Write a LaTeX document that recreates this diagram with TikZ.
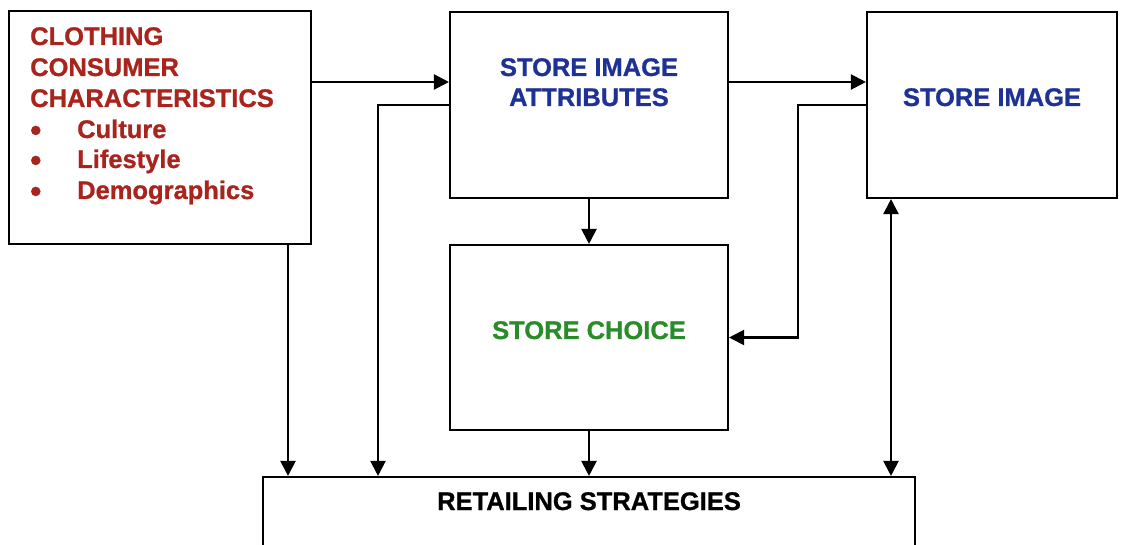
\documentclass[tikz,border=0pt]{standalone}
\usepackage{fontspec}
\setmainfont{Liberation Sans}[BoldFeatures={FakeBold=0.8}]
\usetikzlibrary{arrows.meta}
\definecolor{cred}{RGB}{168,36,28}
\definecolor{cblue}{RGB}{30,50,150}
\definecolor{cgreen}{RGB}{40,140,40}
\tikzset{
  box/.style={draw=black, line width=2.1pt, fill=none, inner sep=0pt},
  txt/.style={font=\fontsize{25.5}{30}\selectfont\bfseries, inner sep=0pt},
  arr/.style={line width=2.1pt, -{Triangle[length=15pt,width=15pt]}},
  darr/.style={line width=2.1pt, {Triangle[length=15pt,width=15pt]}-{Triangle[length=15pt,width=15pt]}},
}
\newcommand{\bul}{\makebox[47pt][l]{\smash{\raisebox{-3pt}{\fontsize{32}{30}\selectfont •}}}}
\begin{document}
\begin{tikzpicture}[x=1pt,y=-1pt]
\useasboundingbox (0,0) rectangle (1125,545);
\fill[white] (0,0) rectangle (1125,545);
\clip (0,0) rectangle (1125,545);
% boxes
\node[box, minimum width=302pt, minimum height=233pt] (b1) at (160,127.5) {};
\node[box, minimum width=278pt, minimum height=186pt] (b2) at (589,105) {};
\node[box, minimum width=250pt, minimum height=186pt] (b3) at (992,105) {};
\node[box, minimum width=278pt, minimum height=185pt] (b4) at (589,337.5) {};
\node[box, minimum width=652pt, minimum height=120pt] (b5) at (589,537) {};
% texts box 1
\node[txt, text=cred, anchor=base west] (l1) at (30,45) {CLOTHING};
\node[txt, text=cred, anchor=base west] (l2) at (30,76) {CONSUMER};
\node[txt, text=cred, anchor=base west] (l3) at (30,107) {CHARACTERISTICS};
\node[txt, text=cred, anchor=base west] (l4) at (30,138) {\bul Culture};
\node[txt, text=cred, anchor=base west] (l5) at (30,168) {\bul Lifestyle};
\node[txt, text=cred, anchor=base west] (l6) at (30,199) {\bul Demographics};
% other texts
\node[txt, text=cblue, anchor=base] (t2a) at (589,76) {STORE IMAGE};
\node[txt, text=cblue, anchor=base] (t2b) at (589,106) {ATTRIBUTES};
\node[txt, text=cblue, anchor=base] (t3) at (992,106) {STORE IMAGE};
\node[txt, text=cgreen, anchor=base] (t4) at (589,339) {STORE CHOICE};
\node[txt, text=black, anchor=base] (t5) at (589,510) {RETAILING STRATEGIES};
% helper coordinates
\coordinate (ya) at (0,82);
\coordinate (xa) at (288,0);
\coordinate (xb) at (378,0);
\coordinate (xc) at (798,0);
\coordinate (xd) at (891,0);
% connectors
\draw[arr] (b1.east |- ya) -- (b2.west |- ya);
\draw[arr] (b2.east |- ya) -- (b3.west |- ya);
\draw[arr] (b2.west) -- (b2.west -| xb) -- (xb |- b5.north);
\draw[arr] (b3.west) -- (b3.west -| xc) -- (xc |- b4.east) -- (b4.east);
\draw[arr] (b2.south) -- (b4.north);
\draw[arr] (b4.south) -- (b5.north -| b4.south);
\draw[arr] (xa |- b1.south) -- (xa |- b5.north);
\draw[darr] (xd |- b3.south) -- (xd |- b5.north);
\end{tikzpicture}
\end{document}
